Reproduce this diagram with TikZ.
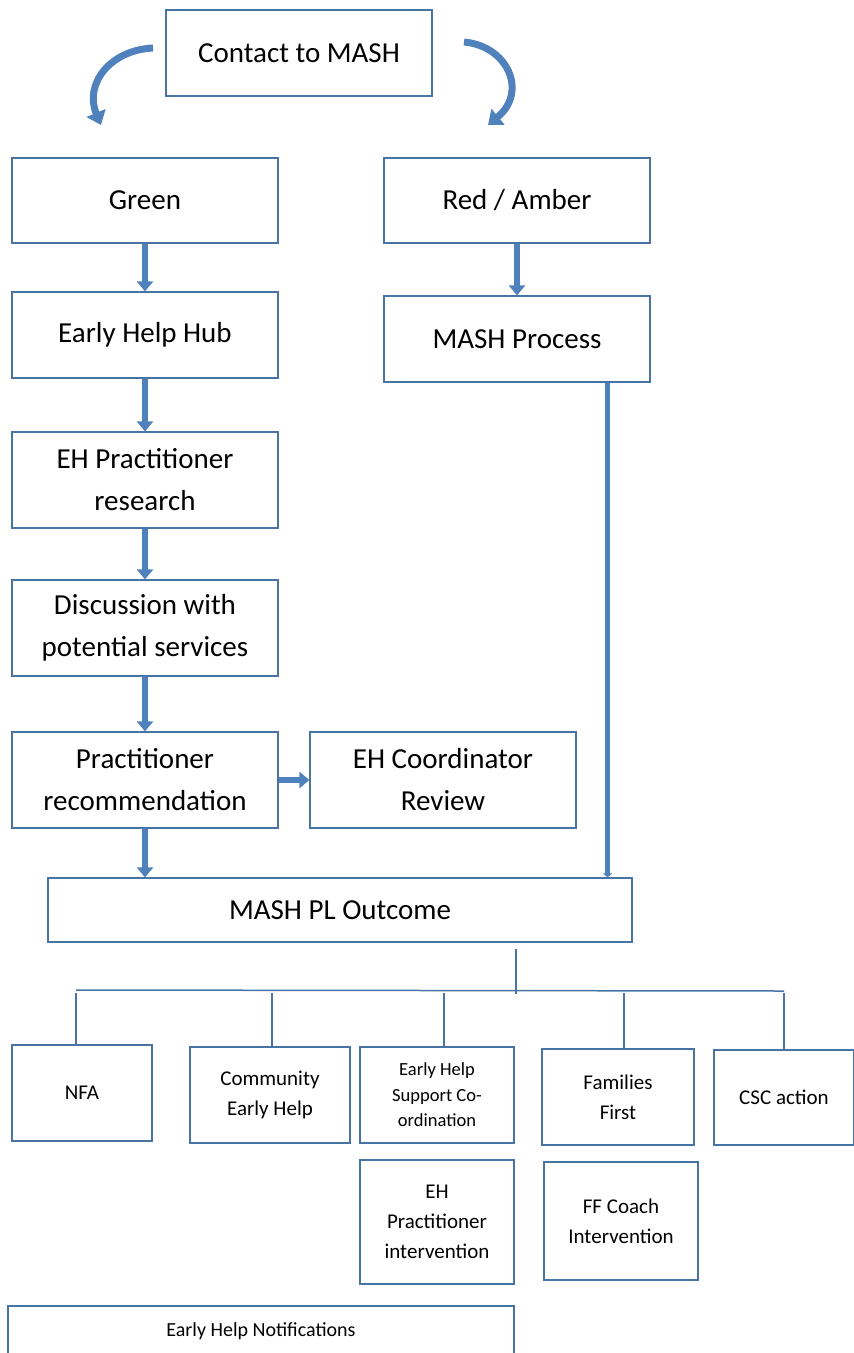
\documentclass[tikz,border=0pt]{standalone}
\usepackage{fontspec}
\setmainfont{Carlito}
\usepackage{xcolor}
\usepackage{tikz}
\usetikzlibrary{arrows.meta, positioning, calc}
\definecolor{edgeblue}{RGB}{72,115,165}
\definecolor{flowblue}{RGB}{79,129,189}
\newcommand{\bigtxt}{\fontsize{29}{42}\selectfont}
\newcommand{\midtxt}{\fontsize{21}{30}\selectfont}
\newcommand{\smalltxt}{\fontsize{18.5}{25.5}\selectfont}
\tikzstyle{stage} = [rectangle, draw=edgeblue, line width=1.2pt, fill=white, align=center, text centered, inner sep=2pt, font=\bigtxt]
\tikzstyle{result} = [rectangle, draw=edgeblue, line width=1.2pt, fill=white, align=center, text centered, inner sep=2pt, font=\midtxt]
\tikzstyle{flow} = [draw=flowblue, line width=6pt, -{Triangle[width=16pt,length=10pt]}]
\tikzstyle{curl} = [draw=flowblue, line width=7pt, -{Triangle[width=20pt,length=13pt]}]
\tikzstyle{branch} = [draw=edgeblue, line width=1.5pt]

\begin{document}
\begin{tikzpicture}[x=1pt, y=-1pt]
    \useasboundingbox (0,0) rectangle (854,1353);
    % Nodes
    \node[stage, minimum width=266pt, minimum height=86pt] (contact) at (299,53) {Contact to MASH};
    \node[stage, minimum width=266pt, minimum height=85pt] (green) at (145,200.5) {Green};
    \node[stage, minimum width=266pt, minimum height=85pt] (redamber) at (517,200.5) {Red / Amber};
    \node[stage, minimum width=266pt, minimum height=86pt] (ehhub) at (145,335) {Early Help Hub};
    \node[stage, minimum width=266pt, minimum height=86pt] (mashproc) at (517,339) {MASH Process};
    \node[stage, minimum width=266pt, minimum height=96pt] (research) at (145,480) {EH Practitioner\\research};
    \node[stage, minimum width=266pt, minimum height=96pt] (discussion) at (145,628) {Discussion with\\potential services};
    \node[stage, minimum width=266pt, minimum height=96pt] (recommend) at (145,780) {Practitioner\\recommendation};
    \node[stage, minimum width=266pt, minimum height=96pt] (coordinator) at (443,780) {EH Coordinator\\Review};
    \node[stage, minimum width=584pt, minimum height=64pt] (plout) at (340,910) {MASH PL Outcome};

    % Outcomes
    \node[result, minimum width=140pt, minimum height=96pt] (nfa) at (82,1093) {NFA};
    \node[result, minimum width=160pt, minimum height=96pt] (community) at (270,1095) {Community\\Early Help};
    \node[result, minimum width=154pt, minimum height=96pt, font=\smalltxt] (ehsupport) at (437,1095) {Early Help\\Support Co-\\ordination};
    \node[result, minimum width=152pt, minimum height=96pt] (families) at (618,1097) {Families\\First};
    \node[result, minimum width=140pt, minimum height=95pt] (csc) at (784,1097.5) {CSC action};
    \node[result, minimum width=154pt, minimum height=124pt] (ehinterv) at (437,1222) {EH\\Practitioner\\intervention};
    \node[result, minimum width=154pt, minimum height=118pt] (ffcoach) at (621,1221) {FF Coach\\Intervention};
    \node[result, minimum width=506pt, minimum height=50pt, font=\fontsize{20}{28}\selectfont] (notif) at (261,1331) {Early Help Notifications};

    % Curved arrows
    \coordinate (curlleft) at (153,48);
    \coordinate (curlright) at (464,42);
    \coordinate (greentip) at (101,125);
    \coordinate (redtip) at (488,125);
    \draw[curl] (curlleft) .. controls (110,50) and (84,84) .. (greentip);
    \draw[curl] (curlright) .. controls (508,46) and (528,92) .. (redtip);

    % Arrows
    \draw[flow] (green) -- (ehhub);
    \draw[flow] (redamber) -- (mashproc);
    \draw[flow] (ehhub) -- (research);
    \draw[flow] (research) -- (discussion);
    \draw[flow] (discussion) -- (recommend);
    \draw[flow] (recommend) -- (coordinator);
    \draw[flow] (recommend.south) -- (recommend.south |- plout.north);
    \draw[draw=flowblue, line width=4.5pt, -{Triangle[width=9pt,length=4pt]}]
        ([xshift=-43pt]mashproc.south east) -- ([xshift=-43pt]mashproc.south east |- plout.north);

    % Branches
    \coordinate (split) at (516,990);
    \coordinate (barleft) at (76,990);
    \coordinate (barright) at (784,991);
    \draw[branch] ([yshift=-6pt]plout.south -| split) -- ([yshift=-4pt]split);
    \draw[branch] (barleft) -- (barright);
    \foreach \n/\x in {nfa/76, community/272, ehsupport/444, families/624, csc/784} {
        \coordinate (drop) at (\x,990);
        \draw[branch] ([yshift=-3pt]drop) -- (drop |- \n.north);
    }
\end{tikzpicture}
\end{document}
